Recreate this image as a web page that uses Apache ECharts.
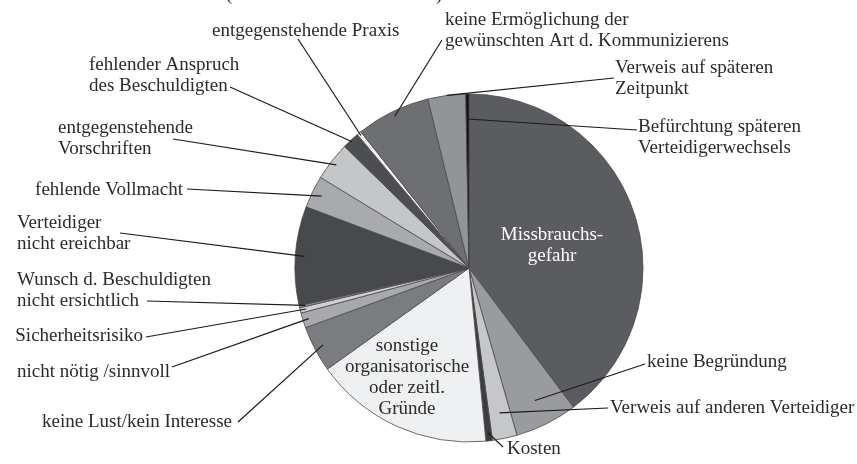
<!DOCTYPE html>
<html>
<head>
<meta charset="utf-8">
<script src="https://cdn.jsdelivr.net/npm/echarts@6/dist/echarts.min.js"></script>
<style>
  html, body { margin: 0; padding: 0; background: #ffffff; }
  #chart { width: 857px; height: 464px; }
</style>
</head>
<body>
<div id="chart"></div>
<script>
// ---- data (clockwise from 12 o'clock), shares in percent ----
const categories = [
  'Missbrauchs-\ngefahr',
  'keine Begründung',
  'Verweis auf anderen Verteidiger',
  'Kosten',
  'sonstige\norganisatorische\noder zeitl.\nGründe',
  'keine Lust/kein Interesse',
  'nicht nötig /sinnvoll',
  'Sicherheitsrisiko',
  'Wunsch d. Beschuldigten\nnicht ersichtlich',
  'Verteidiger\nnicht ereichbar',
  'fehlende Vollmacht',
  'entgegenstehende\nVorschriften',
  'fehlender Anspruch\ndes Beschuldigten',
  'entgegenstehende Praxis',
  'keine Ermöglichung der\ngewünschten Art d. Kommunizierens',
  'Verweis auf späteren\nZeitpunkt',
  'Befürchtung späteren\nVerteidigerwechsels'
];
const values = [39.8, 5.8, 2.3, 0.6, 16.7, 4.3, 1.4, 0.5, 0.2, 9.2, 3.0, 3.6, 1.6, 0.4, 6.9, 3.5, 0.3];

// ---- styles ----
const sliceColors = [
  '#5b5c60', '#9a9b9f', '#c6c7c9', '#3c3d41', '#eff0f2', '#7b7c80', '#a8a9ac', '#cfd0d2',
  '#8e8f92', '#48494d', '#a9aaad', '#c5c6c8', '#4d4e52', '#f6f6f6', '#6e6f73', '#939498', '#111111'
];
const insideLabel = [true, false, false, false, true, false, false, false, false, false, false, false, false, false, false, false, false];
const insideColor = ['#ffffff', null, null, null, '#2b2b2b'];

// ---- label layout (text anchor, leader-line end, leader-line start radius) ----
const CX = 469, CY = 268, R = 174;
const labelSpec = [
  { x: 552, y: 246, align: 'center' },
  { x: 647, y: 362, align: 'left',  end: [645, 364], r: 148 },
  { x: 610, y: 408, align: 'left',  end: [608, 408], r: 148 },
  { x: 507, y: 449, align: 'left',  end: [503, 447], r: 166 },
  { x: 407, y: 378, align: 'center' },
  { x: 232, y: 422, align: 'right', end: [238, 422], r: 165 },
  { x: 170, y: 372, align: 'right', end: [172, 367], r: 168 },
  { x: 143, y: 336, align: 'right', end: [146, 337], r: 168 },
  { x: 17,  y: 291, align: 'left',  end: [147, 301], r: 168 },
  { x: 17,  y: 234, align: 'left',  end: [120, 233], r: 165 },
  { x: 183, y: 190, align: 'right', end: [187, 189], r: 164 },
  { x: 58,  y: 139, align: 'left',  end: [173, 139], r: 168 },
  { x: 89,  y: 76,  align: 'left',  end: [230, 87],  r: 172 },
  { x: 212, y: 31,  align: 'left',  end: [298, 39],  r: 171 },
  { x: 445, y: 31,  align: 'left',  end: [442, 40],  r: 169 },
  { x: 615, y: 79,  align: 'left',  end: [614, 78],  r: 174 },
  { x: 638, y: 138, align: 'left',  end: [637, 130], r: 149 }
];

const FONT = '"Liberation Serif", "DejaVu Serif", serif';

const pieData = categories.map((name, i) => {
  const item = {
    name: name,
    value: values[i],
    itemStyle: { color: sliceColors[i] }
  };
  if (insideLabel[i]) {
    item.label = { position: 'inside', color: insideColor[i] };
  }
  return item;
});

const chart = echarts.init(document.getElementById('chart'), null, { renderer: 'canvas' });
chart.setOption({
  animation: false,
  backgroundColor: '#ffffff',
  series: [{
    type: 'pie',
    center: [CX, CY],
    radius: [0, R],
    startAngle: 90,
    clockwise: true,
    avoidLabelOverlap: false,
    silent: true,
    emphasis: { disabled: true },
    itemStyle: { borderColor: '#4a4a4a', borderWidth: 0.8 },
    label: {
      show: true,
      position: 'outside',
      formatter: '{b}',
      fontFamily: FONT,
      fontSize: 19,
      lineHeight: 21,
      color: '#2b2b2b',
      overflow: 'none'
    },
    labelLine: { show: false },
    labelLayout: function (p) {
      const L = labelSpec[p.dataIndex];
      if (!L) return {};
      return { x: L.x, y: L.y, align: L.align, verticalAlign: 'middle' };
    },
    data: pieData
  }]
});

// ---- leader lines: start inside each slice at its mid angle (from the pie's own layout) ----
const total = values.reduce((a, b) => a + b, 0);
function sliceMid(idx) {
  let layout = null;
  try {
    layout = chart.getModel().getSeriesByIndex(0).getData().getItemLayout(idx);
  } catch (e) { layout = null; }
  if (layout && layout.startAngle != null) {
    const a = (layout.startAngle + layout.endAngle) / 2;
    return { cx: layout.cx, cy: layout.cy, ux: Math.cos(a), uy: Math.sin(a) };
  }
  let acc = 0;
  for (let i = 0; i < idx; i++) acc += values[i];
  const deg = (acc + values[idx] / 2) / total * 360 * Math.PI / 180;
  return { cx: CX, cy: CY, ux: Math.sin(deg), uy: -Math.cos(deg) };
}

const graphics = [
  { type: 'text', left: 226, top: -14, z: 100, style: { text: '(', font: '19px ' + FONT, fill: '#2b2b2b' } },
  { type: 'text', left: 436, top: -14, z: 100, style: { text: ')', font: '19px ' + FONT, fill: '#2b2b2b' } }
];
labelSpec.forEach((L, i) => {
  if (!L.end) return;
  const m = sliceMid(i);
  const sx = m.cx + m.ux * L.r, sy = m.cy + m.uy * L.r;
  graphics.push({
    type: 'line',
    z: 100,
    silent: true,
    shape: { x1: sx, y1: sy, x2: L.end[0], y2: L.end[1] },
    style: { stroke: '#1a1a1a', lineWidth: 1.2 }
  });
});
chart.setOption({ graphic: graphics });
</script>
</body>
</html>
